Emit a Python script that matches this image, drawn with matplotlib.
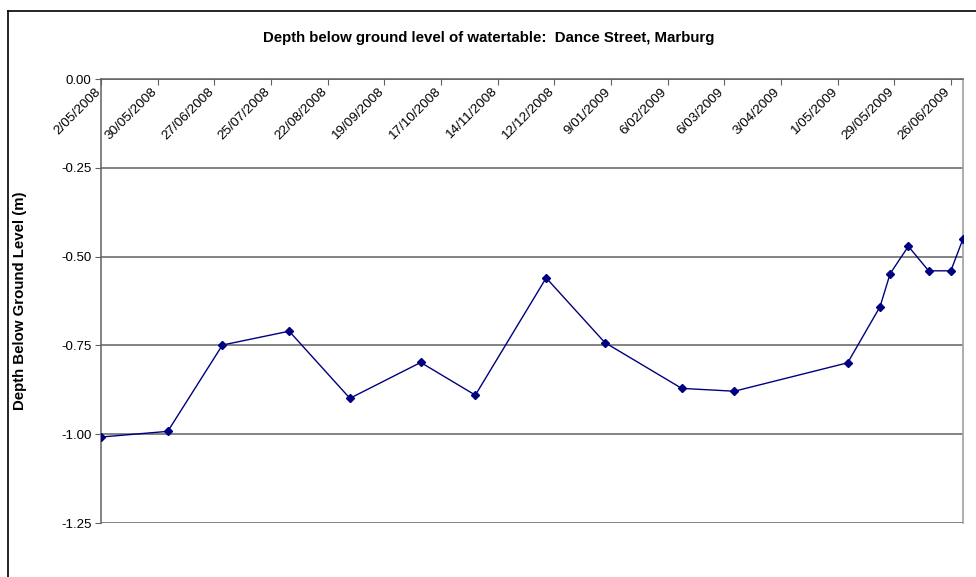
import matplotlib
matplotlib.use("Agg")
import matplotlib.pyplot as plt
import matplotlib.transforms as mtransforms
from matplotlib.lines import Line2D
import numpy as np

plt.rcParams['font.family'] = ['Liberation Sans', 'DejaVu Sans']

# readings of depth below ground (m)
dates = ['2008-05-02', '2008-06-04', '2008-07-01', '2008-08-03', '2008-09-02',
         '2008-10-07', '2008-11-03', '2008-12-08', '2009-01-06', '2009-02-13',
         '2009-03-11', '2009-05-06', '2009-05-22', '2009-05-27', '2009-06-05',
         '2009-06-15', '2009-06-26', '2009-07-02']
depth = [-1.008, -0.992, -0.749, -0.710, -0.899,
         -0.798, -0.890, -0.560, -0.742, -0.871,
         -0.879, -0.799, -0.641, -0.548, -0.471,
         -0.540, -0.540, -0.450]

tick_dates = ['2008-05-02', '2008-05-30', '2008-06-27', '2008-07-25', '2008-08-22',
              '2008-09-19', '2008-10-17', '2008-11-14', '2008-12-12', '2009-01-09',
              '2009-02-06', '2009-03-06', '2009-04-03', '2009-05-01', '2009-05-29',
              '2009-06-26']
tick_labels = ['2/05/2008', '30/05/2008', '27/06/2008', '25/07/2008', '22/08/2008',
               '19/09/2008', '17/10/2008', '14/11/2008', '12/12/2008', '9/01/2009',
               '6/02/2009', '6/03/2009', '3/04/2009', '1/05/2009', '29/05/2009',
               '26/06/2009']
y_ticks = [0.0, -0.25, -0.5, -0.75, -1.0, -1.25]

x = np.array(dates, dtype='datetime64[D]')
xt = np.array(tick_dates, dtype='datetime64[D]')

fig = plt.figure(figsize=(9.76, 5.77), dpi=100)
ax = fig.add_axes([101/976, 1 - 523/577, (963 - 101)/976, (523 - 79)/577])

for yv in y_ticks:
    ax.axhline(yv, color='#606060', lw=1.1, zorder=1)

ax.plot(x, depth, color='#000080', lw=1, marker='D', ms=4, zorder=3)

ax.set_xlim(x[0], x[-1])
ax.set_ylim(-1.25, 0)
ax.set_yticks(y_ticks)
ax.set_yticklabels(['%.2f' % v for v in y_ticks], fontsize=9.5)
ax.tick_params(axis='y', direction='out', length=4, color='#606060', pad=3)

ax.xaxis.tick_top()
ax.set_xticks(xt)
ax.set_xticklabels(tick_labels, rotation=45, ha='right', va='center',
                   rotation_mode='anchor', fontsize=9.7)
ax.tick_params(axis='x', direction='in', length=4, color='#606060', pad=0)
offset = mtransforms.ScaledTranslation(-0.025, -0.11, fig.dpi_scale_trans)
for lbl in ax.get_xticklabels():
    lbl.set_transform(lbl.get_transform() + offset)

for s in ['left', 'top']:
    ax.spines[s].set_color('#606060')
    ax.spines[s].set_linewidth(1.1)
ax.spines['right'].set_color('#a0a0a0')
ax.spines['right'].set_linewidth(1.2)
ax.spines['bottom'].set_visible(False)

ax.set_ylabel('Depth Below Ground Level (m)', fontsize=10.8, fontweight='bold')
ax.yaxis.set_label_coords(-74/862, 0.5)

fig.text(489/976, 1 - 38/577, 'Depth below ground level of watertable:  Dance Street, Marburg',
         ha='center', va='center', fontsize=10.8, fontweight='bold')

# outer chart border (runs off the picture to the right and bottom)
fig.add_artist(Line2D([8/976, 8/976], [0, 1 - 11/577], color='black', lw=1.2))
fig.add_artist(Line2D([8/976, 1], [1 - 11/577, 1 - 11/577], color='black', lw=1.2))

fig.savefig('out.png', dpi=100)
